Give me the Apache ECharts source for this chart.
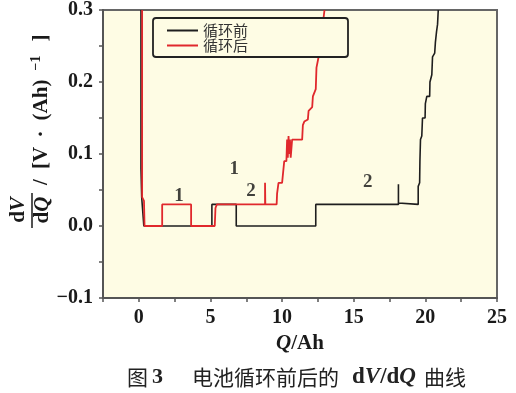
<!DOCTYPE html>
<html>
<head>
<meta charset="utf-8">
<script src="https://cdn.jsdelivr.net/npm/echarts@6/dist/echarts.min.js"></script>
<style>
html,body{margin:0;padding:0;background:#fff;}
#c{width:516px;height:393px;}
</style>
</head>
<body>
<div id="c"></div>
<script>
// ---- data ----
const seriesNames = ['循环前', '循环后'];
const xTickLabels = ['0', '5', '10', '15', '20', '25'];
const yTickLabels = ['−0.1', '0.0', '0.1', '0.2', '0.3'];

// 循环前 (black)
const beforeCycle = [
  [0.15, 0.30], [0.15, 0.08], [0.20, 0.04], [0.35, 0.0],
  [5.10, 0.0], [5.10, 0.03], [6.80, 0.03], [6.80, 0.0],
  [12.35, 0.0], [12.35, 0.03], [18.12, 0.03], [18.12, 0.058], [18.12, 0.032], [18.18, 0.03],
  [19.50, 0.03], [19.50, 0.055], [19.60, 0.06], [19.62, 0.09], [19.66, 0.12],
  [19.75, 0.125], [19.80, 0.15], [19.98, 0.15], [20.0, 0.17], [20.1, 0.18],
  [20.3, 0.18], [20.32, 0.20], [20.45, 0.21], [20.5, 0.235], [20.65, 0.24],
  [20.7, 0.255], [20.78, 0.27], [20.85, 0.28], [20.90, 0.30]
];

// 循环后 (red)
const afterCycle = [
  [0.23, 0.30], [0.23, 0.04], [0.36, 0.035], [0.40, 0.0],
  [1.63, 0.0], [1.63, 0.03], [3.65, 0.03], [3.65, 0.0],
  [5.30, 0.0], [5.35, 0.025], [5.45, 0.03], [8.81, 0.03], [8.81, 0.06], [8.83, 0.03],
  [9.62, 0.03], [9.65, 0.045], [9.75, 0.06], [10.0, 0.06], [10.05, 0.07], [10.15, 0.09],
  [10.3, 0.09], [10.35, 0.12], [10.4, 0.095], [10.45, 0.125], [10.5, 0.10], [10.55, 0.12],
  [10.6, 0.095], [10.7, 0.12], [11.4, 0.12], [11.45, 0.14], [11.55, 0.145], [11.8, 0.148],
  [11.85, 0.16], [12.1, 0.165], [12.15, 0.18], [12.35, 0.19], [12.4, 0.22], [12.55, 0.235],
  [12.75, 0.265], [12.96, 0.30]
];

// peak annotations [Q, value, text]
const annotations = [
  [2.8, 0.042, '1'],
  [6.66, 0.079, '1'],
  [7.83, 0.049, '2'],
  [15.98, 0.061, '2']
];

// ---- chart ----
const SERIF = '"Liberation Serif","Times New Roman",serif';
const CJK = '"Noto Sans CJK SC",sans-serif';
const chart = echarts.init(document.getElementById('c'), null, {renderer: 'canvas'});

function yFmt(v) {
  const r = Math.round(v * 10);
  if (Math.abs(v * 10 - r) > 1e-6) return '';
  const idx = r + 1;
  return yTickLabels[idx] !== undefined ? yTickLabels[idx] : '';
}
function xFmt(v) {
  const r = Math.round(v / 5);
  if (Math.abs(v / 5 - r) > 1e-6 || r < 0) return '';
  return xTickLabels[r] !== undefined ? xTickLabels[r] : '';
}

const B = {fontFamily: SERIF, fontWeight: 'bold', fontSize: 21, fill: '#1a1a1a'};
const BI = {fontFamily: SERIF, fontWeight: 'bold', fontStyle: 'italic', fontSize: 21, fill: '#1a1a1a'};
function vtext(str, x, y, extra) {
  return {
    type: 'text', x: x, y: y, rotation: Math.PI / 2,
    style: Object.assign({text: str, align: 'center', verticalAlign: 'middle'}, B, extra || {})
  };
}
function htext(str, x, y, st) {
  return {
    type: 'text', x: x, y: y,
    style: Object.assign({text: str, align: 'left', verticalAlign: 'middle'}, st)
  };
}
const CAP_C = {fontFamily: CJK, fontSize: 21, fill: '#222'};

const option = {
  animation: false,
  backgroundColor: '#ffffff',
  grid: {
    left: 103, right: 19, top: 10, bottom: 95,
    show: true, backgroundColor: '#FEFCE4', borderColor: '#666', borderWidth: 2
  },
  legend: {
    data: seriesNames,
    orient: 'vertical',
    left: 153, top: 18,
    itemGap: 0,
    itemWidth: 31, itemHeight: 2,
    icon: 'rect',
    padding: [5, 100, 4, 14],
    backgroundColor: '#FEFCE4',
    borderColor: '#222', borderWidth: 1.8, borderRadius: 3,
    textStyle: {fontFamily: CJK, fontSize: 15, color: '#333', lineHeight: 15}
  },
  xAxis: {
    type: 'value', min: -2.5, max: 25, interval: 2.5,
    axisLine: {show: true, onZero: false, lineStyle: {color: '#555', width: 2}},
    axisTick: {show: true, inside: false, length: 4, lineStyle: {color: '#555', width: 1.5}},
    splitLine: {show: false},
    axisLabel: {
      formatter: xFmt, margin: 10, color: '#1a1a1a',
      fontFamily: SERIF, fontWeight: 'bold', fontSize: 20
    },
    name: '{q|Q}{t|/Ah}',
    nameLocation: 'middle', nameGap: 32,
    nameTextStyle: {
      rich: {
        q: {fontFamily: SERIF, fontWeight: 'bold', fontStyle: 'italic', fontSize: 21, color: '#1a1a1a'},
        t: {fontFamily: SERIF, fontWeight: 'bold', fontSize: 21, color: '#1a1a1a'}
      }
    }
  },
  yAxis: {
    type: 'value', min: -0.1, max: 0.3, interval: 0.05,
    axisLine: {show: true, onZero: false, lineStyle: {color: '#555', width: 2}},
    axisTick: {show: true, inside: false, length: 4, lineStyle: {color: '#555', width: 1.5}},
    splitLine: {show: false},
    axisLabel: {
      formatter: yFmt, margin: 10, color: '#1a1a1a',
      fontFamily: SERIF, fontWeight: 'bold', fontSize: 20
    }
  },
  series: [
    {
      name: seriesNames[0], type: 'line', data: beforeCycle,
      showSymbol: false, symbol: 'none', clip: true,
      lineStyle: {color: '#1e1e1e', width: 1.6}, itemStyle: {color: '#1e1e1e'}, z: 2
    },
    {
      name: seriesNames[1], type: 'line', data: afterCycle,
      showSymbol: false, symbol: 'none', clip: true,
      lineStyle: {color: '#E0282C', width: 1.8}, itemStyle: {color: '#E0282C'}, z: 3
    },
    {
      name: 'labels', type: 'scatter', symbolSize: 0, silent: true,
      data: annotations.map(a => ({value: [a[0], a[1]], label: {formatter: a[2]}})),
      label: {
        show: true, position: 'inside', color: '#111',
        fontFamily: SERIF, fontWeight: 'bold', fontSize: 19
      },
      z: 4
    }
  ],
  graphic: [
    // y-axis title: dV/dQ /[V · (Ah)^-1]
    {
      type: 'text', x: 19, y: 210, rotation: Math.PI / 2,
      style: {
        text: '{d|d}{v|V}', align: 'center', verticalAlign: 'middle',
        rich: {d: B, v: BI}
      }
    },
    {
      type: 'line', shape: {x1: 32, y1: 193, x2: 32, y2: 228},
      style: {stroke: '#1a1a1a', lineWidth: 1.5}
    },
    {
      type: 'text', x: 43, y: 210, rotation: Math.PI / 2,
      style: {
        text: '{d|d}{v|Q}', align: 'center', verticalAlign: 'middle',
        rich: {d: B, v: BI}
      }
    },
    vtext('/', 42, 182),
    vtext('[V', 42, 158),
    vtext('·', 42, 134),
    vtext('(Ah)', 42, 100),
    vtext('−1', 36, 63, {fontSize: 14}),
    vtext(']', 42, 38),
    // caption
    htext('图', 127, 377, CAP_C),
    htext('3', 152, 377, {fontFamily: SERIF, fontWeight: 'bold', fontSize: 22, fill: '#222'}),
    htext('电池循环前后的', 192, 377, CAP_C),
    {
      type: 'text', x: 352, y: 377,
      style: {
        text: '{n|d}{i|V}{n|/d}{i|Q}', align: 'left', verticalAlign: 'middle',
        rich: {
          n: {fontFamily: SERIF, fontWeight: 'bold', fontSize: 23, fill: '#222'},
          i: {fontFamily: SERIF, fontWeight: 'bold', fontStyle: 'italic', fontSize: 23, fill: '#222'}
        }
      }
    },
    htext('曲线', 424, 377, CAP_C)
  ]
};
chart.setOption(option);
</script>
</body>
</html>
